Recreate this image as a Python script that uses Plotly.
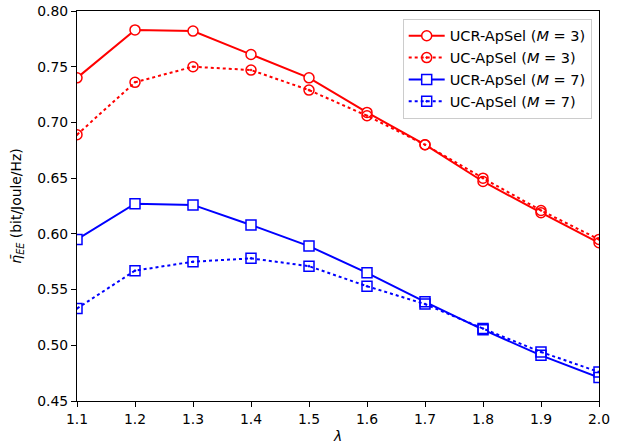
import plotly.graph_objects as go

# Relaxation parameter lambda
lam = [1.1, 1.2, 1.3, 1.4, 1.5, 1.6, 1.7, 1.8, 1.9, 2.0]

# Average energy efficiency (bit/Joule/Hz)
ucr_m3 = [0.740, 0.783, 0.782, 0.761, 0.740, 0.709, 0.680, 0.647, 0.619, 0.592]
uc_m3 = [0.689, 0.736, 0.750, 0.747, 0.729, 0.706, 0.680, 0.650, 0.621, 0.595]
ucr_m7 = [0.595, 0.627, 0.626, 0.608, 0.589, 0.565, 0.539, 0.514, 0.491, 0.471]
uc_m7 = [0.533, 0.567, 0.575, 0.578, 0.571, 0.553, 0.537, 0.515, 0.494, 0.476]

x_ticks = [1.1, 1.2, 1.3, 1.4, 1.5, 1.6, 1.7, 1.8, 1.9, 2.0]
y_ticks = [0.45, 0.50, 0.55, 0.60, 0.65, 0.70, 0.75, 0.80]

FS = 13.9

series = [
    ("UCR-ApSel (<i>M</i> = 3)", ucr_m3, "red", "solid", "circle", "white"),
    ("UC-ApSel (<i>M</i> = 3)", uc_m3, "red", "dot", "circle-open-dot", None),
    ("UCR-ApSel (<i>M</i> = 7)", ucr_m7, "blue", "solid", "square", "white"),
    ("UC-ApSel (<i>M</i> = 7)", uc_m7, "blue", "dot", "square-open-dot", None),
]

fig = go.Figure()
for name, vals, color, dash, symbol, fill in series:
    marker = dict(symbol=symbol, size=10, line=dict(color=color, width=1.5))
    marker["color"] = fill if fill else color
    fig.add_trace(go.Scatter(
        x=lam, y=vals, name=name, mode="lines+markers",
        line=dict(color=color, width=2, dash=dash),
        marker=marker,
    ))

axis_common = dict(
    showline=True, linecolor="black", linewidth=1, mirror=True,
    ticks="outside", ticklen=5, tickwidth=1, tickcolor="black",
    showgrid=False, zeroline=False, automargin=False,
    tickfont=dict(family="DejaVu Sans", size=FS, color="black"),
)

fig.update_xaxes(
    range=[1.1, 2.0], tickvals=x_ticks,
    ticktext=[f"{v:.1f}" for v in x_ticks],
    title=dict(text="<i>λ</i>", font=dict(family="DejaVu Sans", size=FS, color="black"), standoff=7),
    **axis_common,
)
fig.update_yaxes(
    range=[0.45, 0.80], tickvals=y_ticks,
    ticktext=[f"{v:.2f}" for v in y_ticks],
    title=dict(text="<i>η̄</i><sub><i>EE</i></sub> (bit/Joule/Hz)",
               font=dict(family="DejaVu Sans", size=FS, color="black"), standoff=12),
    **axis_common,
)

fig.update_layout(
    width=634, height=444,
    margin=dict(l=77, r=35, t=11, b=43),
    paper_bgcolor="white", plot_bgcolor="white",
    font=dict(family="DejaVu Sans", size=FS, color="black"),
    legend=dict(
        x=0.986, y=0.98, xanchor="right", yanchor="top",
        bgcolor="rgba(255,255,255,0.8)", bordercolor="#cccccc", borderwidth=1,
        font=dict(family="DejaVu Sans", size=14.5, color="black"),
        itemwidth=36,
    ),
    showlegend=True,
)

fig.write_html("out.html")
